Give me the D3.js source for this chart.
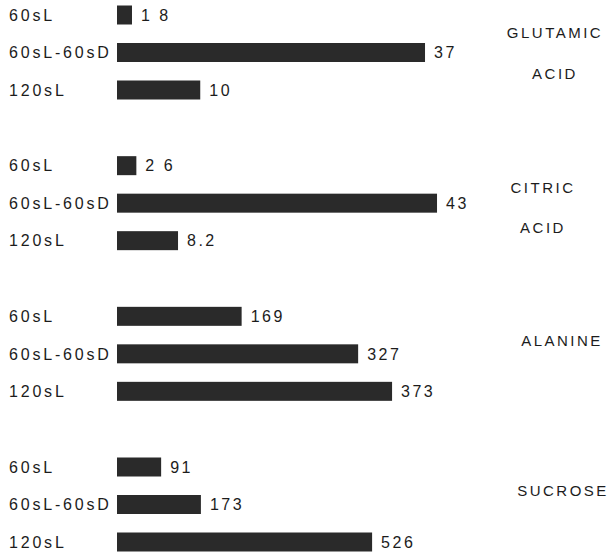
<!DOCTYPE html>
<html>
<head>
<meta charset="utf-8">
<script src="https://cdn.jsdelivr.net/npm/d3@7"></script>
<style>
  html, body { margin: 0; padding: 0; background: #ffffff; }
  svg { display: block; }
  text { font-family: "Liberation Sans", Arial, sans-serif; fill: #1c1c1c; }
</style>
</head>
<body>
<svg id="chart" width="609" height="553"></svg>
<script>
// ---- data ----
const groups = ["GLUTAMIC ACID", "CITRIC ACID", "ALANINE", "SUCROSE"];
const groupLabelLines = [["GLUTAMIC", "ACID"], ["CITRIC", "ACID"], ["ALANINE"], ["SUCROSE"]];
const conditions = ["60sL", "60sL-60sD", "120sL"];
const glutamicValues = [1.8, 37, 10];
const citricValues = [2.6, 43, 8.2];
const alanineValues = [169, 327, 373];
const sucroseValues = [91, 173, 526];
const glutamicLabels = ["1 8", "37", "10"];
const citricLabels = ["2 6", "43", "8.2"];
const alanineLabels = ["169", "327", "373"];
const sucroseLabels = ["91", "173", "526"];
// each panel is drawn to its own scale (full-scale value per panel)
const groupScaleMax = [38.8, 43.4, 438, 666];

const seriesValues = [glutamicValues, citricValues, alanineValues, sucroseValues];
const seriesLabels = [glutamicLabels, citricLabels, alanineLabels, sucroseLabels];

// ---- layout ----
const svg = d3.select("#chart");
const barX0 = 117, barX1 = 440;
const barH = 19;

const yGroup = d3.scalePoint().domain(groups).range([15, 467]);
const yRow = d3.scalePoint().domain(conditions).range([0, 75]);

const labelCenterX = [555, 543, 562, 563];
const labelOffsets = [[18, 59], [22, 62], [24], [24]];

groups.forEach((g, gi) => {
  const x = d3.scaleLinear().domain([0, groupScaleMax[gi]]).range([barX0, barX1]);
  const gy = yGroup(g);
  const gSel = svg.append("g").attr("class", "group");

  const rows = conditions.map((c, i) => ({ c, v: seriesValues[gi][i], lab: seriesLabels[gi][i] }));

  // row labels
  gSel.selectAll("text.cond").data(rows).join("text")
    .attr("class", "cond")
    .attr("x", 9)
    .attr("y", d => gy + yRow(d.c))
    .attr("dy", "0.36em")
    .attr("font-size", 16)
    .attr("letter-spacing", 2.8)
    .text(d => d.c);

  // bars
  gSel.selectAll("rect.bar").data(rows).join("rect")
    .attr("class", "bar")
    .attr("x", x(0))
    .attr("y", d => gy + yRow(d.c) - barH / 2)
    .attr("width", d => x(d.v) - x(0))
    .attr("height", barH)
    .attr("fill", "#2a2a2a");

  // value labels
  gSel.selectAll("text.val").data(rows).join("text")
    .attr("class", "val")
    .attr("x", d => x(d.v) + 9)
    .attr("y", d => gy + yRow(d.c))
    .attr("dy", "0.36em")
    .attr("font-size", 16)
    .attr("letter-spacing", 2.5)
    .text(d => d.lab);

  // group label
  groupLabelLines[gi].forEach((line, li) => {
    gSel.append("text")
      .attr("x", labelCenterX[gi])
      .attr("y", gy + labelOffsets[gi][li])
      .attr("dy", "0.36em")
      .attr("text-anchor", "middle")
      .attr("font-size", 15)
      .attr("letter-spacing", 2.5)
      .text(line);
  });
});
</script>
</body>
</html>
